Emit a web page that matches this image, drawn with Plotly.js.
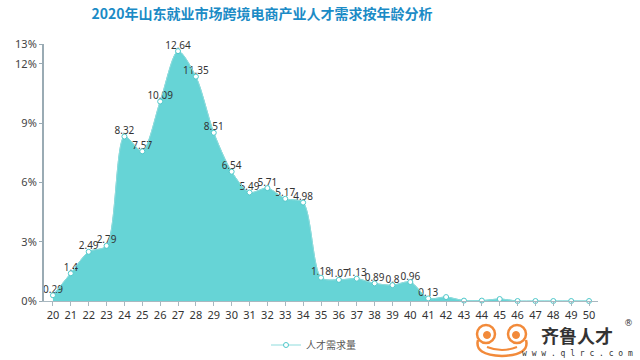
<!DOCTYPE html>
<html>
<head>
<meta charset="utf-8">
<script src="https://cdn.plot.ly/plotly-3.0.1.min.js"></script>
<style>html,body{margin:0;padding:0;background:#fff;}#chart{width:640px;height:360px;}</style>
</head>
<body>
<div id="chart"></div>
<script>
var ages = [20,21,22,23,24,25,26,27,28,29,30,31,32,33,34,35,36,37,38,39,40,41,42,43,44,45,46,47,48,49,50];
var demand = [0.29,1.4,2.49,2.79,8.32,7.57,10.09,12.64,11.35,8.51,6.54,5.49,5.71,5.17,4.98,1.18,1.07,1.13,0.89,0.8,0.96,0.13,0.2,0.02,0.02,0.1,0,0,0,0,0];
var labels = ['0.29','1.4','2.49','2.79','8.32','7.57','10.09','12.64','11.35','8.51','6.54','5.49','5.71','5.17','4.98','1.18','1.07','1.13','0.89','0.8','0.96','0.13','','','','','','','','',''];
var yTicks = [0,3,6,9,12,13];
var yTickText = ['0%','3%','6%','9%','12%','13%'];
var seriesName = '人才需求量';
var titleText = '2020年山东就业市场跨境电商产业人才需求按年龄分析';

// plot area in pixels: left 44, right 598, top 44, bottom 301
var L=44, R=598, T=44, B=301;
function px(x){return (x-L)/(R-L);}
function py(y){return (B-y)/(B-T);}
function circ(cx,cy,r,opts){
  var s={type:'circle',xref:'paper',yref:'paper',x0:px(cx-r),x1:px(cx+r),y0:py(cy+r),y1:py(cy-r)};
  for(var k in opts)s[k]=opts[k];
  return s;
}
var orange='#f28a3a';
var shapes=[
  {type:'path',xref:'paper',yref:'paper',
   path:'M'+px(478)+','+py(340)+' Q'+px(474)+','+py(355)+' '+px(502)+','+py(356)+' Q'+px(530)+','+py(355)+' '+px(526)+','+py(340),
   line:{color:orange,width:2.5},fillcolor:'rgba(0,0,0,0)'},
  circ(486,334,9,{line:{color:orange,width:2.5},fillcolor:'#fff'}),
  circ(517,334,9,{line:{color:orange,width:2.5},fillcolor:'#fff'}),
  circ(487,335,3.5,{line:{color:orange,width:1},fillcolor:orange}),
  circ(516,335,3.5,{line:{color:orange,width:1},fillcolor:orange}),
  {type:'path',xref:'paper',yref:'paper',
   path:'M'+px(487)+','+py(347)+' Q'+px(502)+','+py(353)+' '+px(517)+','+py(347),
   line:{color:orange,width:2},fillcolor:'rgba(0,0,0,0)'}
];

var areaTrace = {
  x: ages, y: demand, text: labels, name: seriesName, showlegend:false,
  type:'scatter', mode:'lines+text',
  line:{shape:'spline', smoothing:0.8, color:'#63d2d3', width:1},
  fill:'tozeroy', fillcolor:'#66d4d6',
  textposition:'top center',
  textfont:{family:'Noto Sans, sans-serif', size:10, color:'#333333'},
  cliponaxis:false, hoverinfo:'x+y'
};
var lineTrace = {
  x: ages, y: demand, name: seriesName, showlegend:true,
  type:'scatter', mode:'lines+markers',
  line:{shape:'spline', smoothing:0.8, color:'#8fdcdd', width:1},
  marker:{size:5, color:'#ffffff', line:{color:'#4fc8ca', width:1}},
  cliponaxis:false, hoverinfo:'skip'
};

var layout = {
  width:640, height:360,
  margin:{l:L, r:640-R, t:T, b:360-B, pad:0, autoexpand:false},
  paper_bgcolor:'#ffffff', plot_bgcolor:'#ffffff',
  title:{text:titleText, x:262/640, xanchor:'center', xref:'container', y:1-14/360, yanchor:'middle', yref:'container',
    font:{family:'Noto Sans CJK SC, sans-serif', size:14, color:'#1b8bc6', weight:'bold'}},
  xaxis:{range:[19.5,50.5], tickvals:ages, ticktext:ages.map(String), showgrid:false, zeroline:false,
    showline:true, linecolor:'#a9b8c0', linewidth:1, ticks:'outside', ticklen:4, tickcolor:'#a9b8c0',
    tickfont:{family:'Noto Sans, sans-serif', size:11, color:'#333333'}, fixedrange:true, automargin:false},
  yaxis:{range:[0,13], tickvals:yTicks, ticktext:yTickText, showgrid:false, zeroline:false,
    showline:true, linecolor:'#9aabb4', linewidth:2, ticks:'outside', ticklen:3, tickcolor:'#9aabb4',
    tickfont:{family:'Noto Sans, sans-serif', size:11, color:'#444444'}, fixedrange:true, automargin:false},
  showlegend:true,
  legend:{orientation:'h', xref:'container', x:266/640, xanchor:'left', yref:'container', y:1-345/360, yanchor:'middle',
    font:{family:'Noto Sans CJK SC, sans-serif', size:10, color:'#555555'}, bgcolor:'rgba(0,0,0,0)'},
  shapes:shapes,
  annotations:[
    {xref:'paper', yref:'paper', x:px(577), y:py(335), text:'<b>齐鲁人才</b>', showarrow:false,
     font:{family:'Noto Sans CJK SC, sans-serif', size:18, color:'#333333'}, xanchor:'center', yanchor:'middle'},
    {xref:'paper', yref:'paper', x:px(577), y:py(353), text:'w w w . q l r c . c o m', showarrow:false,
     font:{family:'DejaVu Sans Mono, monospace', size:8, color:'#333333'}, xanchor:'center', yanchor:'middle'},
    {xref:'paper', yref:'paper', x:px(628), y:py(323), text:'®', showarrow:false,
     font:{family:'DejaVu Sans, sans-serif', size:9, color:'#333333'}, xanchor:'center', yanchor:'middle'}
  ]
};

Plotly.newPlot('chart', [areaTrace, lineTrace], layout, {displayModeBar:false, staticPlot:true});
</script>
</body>
</html>
